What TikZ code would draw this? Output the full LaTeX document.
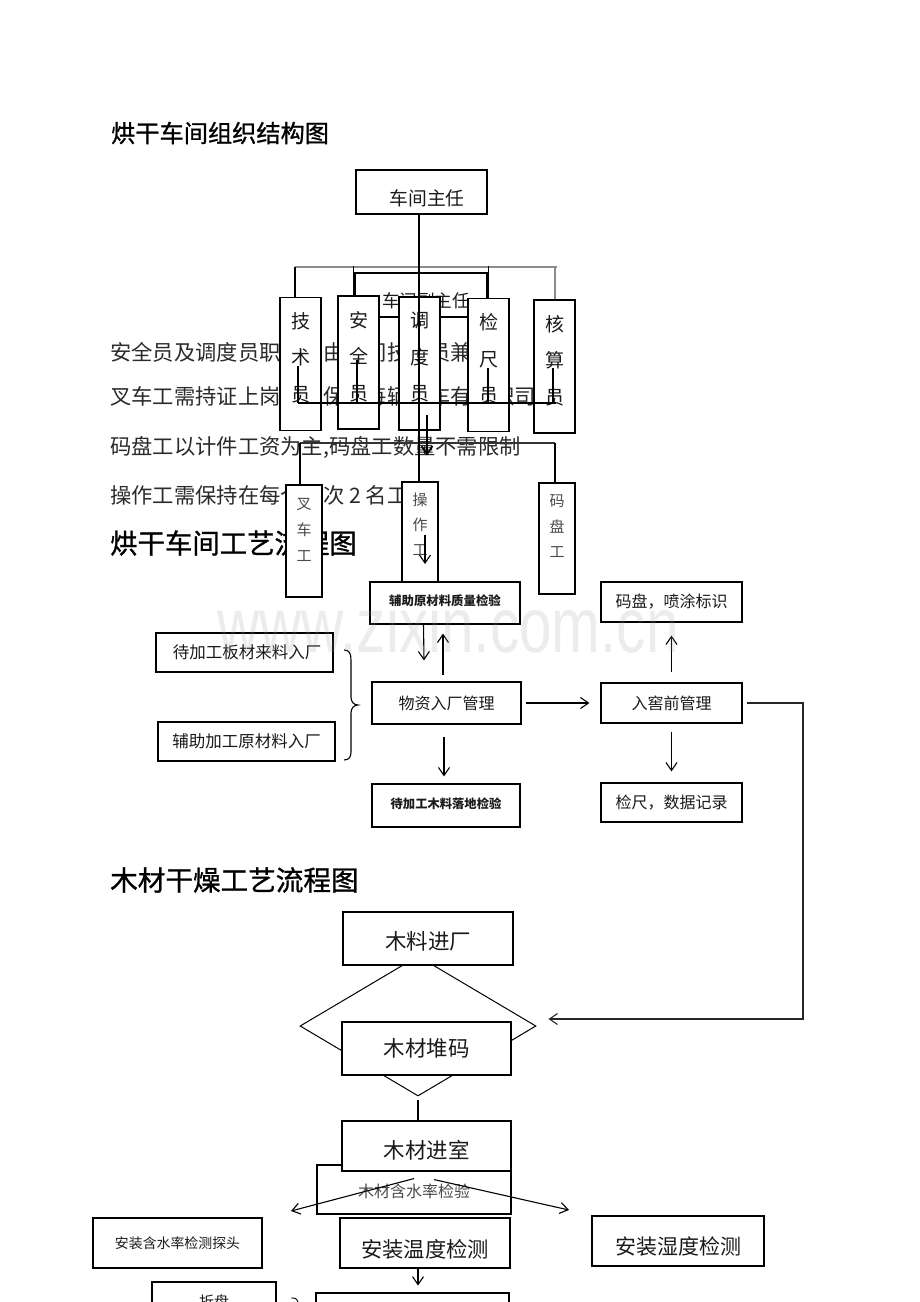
\documentclass[tikz,border=0pt]{standalone}
\usepackage{fontspec}
\setmainfont{Noto Sans CJK SC}
\newfontfamily\ttlfont[FakeBold=1]{Noto Sans CJK SC}
\newfontfamily\wmfont{Liberation Sans}
\usetikzlibrary{arrows.meta,shapes.geometric}
\newcommand\fsz[1]{\fontsize{#1}{#1}\selectfont}
\newcommand\shiftdn[2]{\raisebox{-#1}[\height][\depth]{#2}}
\definecolor{ink}{HTML}{1A1A1A}
\definecolor{bodyc}{HTML}{2A2A2A}
\definecolor{barc}{HTML}{8C8C8C}
\definecolor{softc}{HTML}{4A4A4A}
\begin{document}
\begin{tikzpicture}[x=1pt,y=-1pt,
  box/.style={draw=black, line width=1.1pt, fill=white, inner sep=0pt, text=ink},
  vbox/.style={box, align=center},
  ln/.style={line width=1.1pt, draw=black},
  bar/.style={line width=1.3pt, draw=barc},
  arr/.style={line width=1.1pt, draw=black, -{Straight Barb[length=8pt,width=11pt]}},
  body/.style={anchor=west, inner sep=0pt, text=bodyc, font=\fsz{21.3}},
  ttl/.style={anchor=west, inner sep=0pt, text=black}
]
\fill[white] (0,0) rectangle (920,1302);
\useasboundingbox (0,0) rectangle (920,1302);

% ---------- titles and body lines ----------
\node[ttl, font=\ttlfont\fsz{24.2}] (t1) at (111,133) {烘干车间组织结构图};
\node[body] (l1) at (110,352) {安全员及调度员职务可由车间技术员兼任};
\node[body] (l2) at (110,397) {叉车工需持证上岗，并保证每辆叉车有专职司机};
\node[body] (l3) at (110,447) {码盘工以计件工资为主,码盘工数量不需限制};
\node[body] (l4) at (110,495) {操作工需保持在每个班次 2 名工人};
\node[ttl, font=\ttlfont\fsz{27.4}] (t2) at (110,543) {烘干车间工艺流程图};
\node[ttl, font=\ttlfont\fsz{27.6}] (t3) at (110,880) {木材干燥工艺流程图};

% ---------- organisation chart ----------
\node[box, minimum width=131pt, minimum height=44pt, font=\fsz{18.8}] (zr) at (421.5,192) {\hspace*{11pt}\shiftdn{6pt}{车间主任}};
\coordinate (barL) at (295,267);
\coordinate (barR) at (557,267);
\node[box, minimum width=132pt, minimum height=44pt, font=\fsz{17.6}] (fzr) at (421,295) {\hspace*{10pt}\shiftdn{6pt}{车间副主任}};
\draw[bar] (barL) -- (barR);

\tikzset{orgv/.style={vbox, minimum width=41pt, minimum height=133pt, font=\fontsize{19}{36.5}\selectfont, text depth=14pt}}
\node[orgv] (js) at (300.5,364) {技\\术\\员};
\node[orgv] (aq) at (358.5,362.5) {安\\全\\员};
\node[orgv] (dd) at (419.5,363.5) {调\\度\\员};
\node[orgv] (jc) at (488.5,365) {检\\尺\\员};
\node[orgv] (hs) at (554.5,366.5) {核\\算\\员};

\draw[ln] (barL) -- (barL |- js.north);
\draw[ln] ([xshift=-5pt]aq.north) -- ++(0,-29);
\draw[ln] (jc.north) -- ++(0,-32);
\draw[bar] ([xshift=0.5pt]hs.north) -- ++(0,-33);

\coordinate (hL) at (298,403);
\coordinate (hR) at (556,403);
\draw[ln] (hL) -- (hR);
\draw[ln] ([xshift=-2.5pt,yshift=-2pt]js.center) -- (hL);
\draw[ln] ([xshift=-1.5pt,yshift=2.5pt]aq.center) -- ++(0,43);
\draw[ln] ([xshift=-0.5pt,yshift=-3pt]jc.center) -- ++(0,35);
\draw[ln] ([xshift=-1.5pt,yshift=-1.5pt]hs.center) -- ++(0,35);

\node[vbox, minimum width=36pt, minimum height=112pt, font=\fontsize{15}{26}\selectfont, text depth=22pt, text=softc] (cc) at (304,541) {叉\\车\\工};
\node[vbox, minimum width=36pt, minimum height=104pt, font=\fontsize{15}{25}\selectfont, text depth=20pt, text=softc] (cz) at (420,534) {操\\作\\工};
\node[vbox, minimum width=36pt, minimum height=111pt, font=\fontsize{15}{25.5}\selectfont, text depth=24pt, text=softc] (mp) at (557,538.5) {码\\盘\\工};

\coordinate (h2L) at (300,443);
\coordinate (h2R) at (555,443);
\draw[ln, draw=black!80] (h2L) -- (h2R);
\draw[ln] (h2L) -- (h2L |- cc.north);
\draw[ln] (h2R) -- (h2R |- mp.north);
\draw[ln] ([xshift=-2.5pt]zr.south) -- ([xshift=-2.5pt]zr.south |- cz.north);
\draw[arr, line width=1.6pt] ([xshift=7.5pt,yshift=16pt]dd.south) -- ++(0,41);
\draw[arr] ([xshift=5pt,yshift=-1pt]cz.center) -- ++(0,29);

% ---------- process of drying workshop ----------
\node[box, minimum width=150pt, minimum height=42pt, font=\fsz{12.4}\bfseries] (fz) at (445,603) {\shiftdn{-2pt}{辅助原材料质量检验}};
\node[box, minimum width=177pt, minimum height=39pt, font=\fsz{16.5}] (db) at (244.5,652.5) {\hspace*{5pt}待加工板材来料入厂};
\node[box, minimum width=177pt, minimum height=39pt, font=\fsz{16.5}] (fj) at (246.5,741.5) {辅助加工原材料入厂};
\node[box, minimum width=149pt, minimum height=42pt, font=\fsz{16}] (wz) at (446.5,703) {物资入厂管理};
\node[box, minimum width=148pt, minimum height=43pt, font=\fsz{12.3}\bfseries] (dj) at (446,805.5) {\shiftdn{-2pt}{待加工木料落地检验}};
\node[box, minimum width=141pt, minimum height=40pt, font=\fsz{16}] (mp2) at (671.5,602) {码盘，喷涂标识};
\node[box, minimum width=141pt, minimum height=40pt, font=\fsz{16}] (ry) at (671.5,703) {入窖前管理};
\node[box, minimum width=141pt, minimum height=39pt, font=\fsz{16}] (jc2) at (671.5,802.5) {检尺，数据记录};

\draw[ln] (344,650) .. controls (349,650) and (351,653) .. (351,660) -- (351,697)
  .. controls (351,702) and (354,705) .. (358,705)
  .. controls (354,705) and (351,708) .. (351,713) -- (351,752)
  .. controls (351,757) and (349,760) .. (344,760);

\draw[arr] ([xshift=-21.5pt]fz.south) -- ([xshift=-22.5pt,yshift=21pt]wz.north);
\draw[arr] ([xshift=-3.5pt,yshift=6pt]wz.north) -- ([xshift=-2pt,yshift=-9pt]fz.south);
\draw[arr] ([xshift=-2.5pt,yshift=-12pt]wz.south) -- ([xshift=-2pt,yshift=7pt]dj.north);
\draw[arr] ([xshift=4pt]wz.east) -- ([xshift=-11pt]ry.west);
\draw[arr] ([yshift=10pt]ry.north) -- ([yshift=-13pt]mp2.south);
\draw[arr] ([yshift=-8pt]ry.south) -- ([yshift=11pt]jc2.north);

% ---------- wood drying process ----------
\node[draw=black, line width=1pt, diamond, minimum width=236pt, minimum height=140pt, inner sep=0pt, aspect=1.686] (dia) at (418,1026) {};
\node[box, minimum width=170pt, minimum height=53pt, font=\fsz{21.5}] (ml) at (428,938.5) {\shiftdn{3pt}{木料进厂}};
\node[box, minimum width=169pt, minimum height=53pt, font=\fsz{21.5}] (dm) at (426.5,1048.5) {木材堆码};
\coordinate (c1) at (803,703);
\coordinate (c2) at (803,1019);
\draw[arr, draw=black!85] ([xshift=4pt]ry.east) -- (c1) -- (c2) -- ([xshift=12pt,yshift=7pt]dia.east);

\node[box, minimum width=194pt, minimum height=49pt, font=\fsz{16}, text=softc] (hs3) at (414,1189.5) {\shiftdn{2pt}{木材含水率检验}};
\node[box, minimum width=169pt, minimum height=50pt, font=\fsz{21.5}] (js3) at (426.5,1146) {\shiftdn{4pt}{木材进室}};
\draw[ln] ([yshift=-3pt]dia.south) -- (dia.south |- js3.north);

\coordinate (endL) at (291,1211);
\coordinate (endR) at (569,1210);
\draw[arr] ([xshift=-12.5pt,yshift=-7pt]js3.south) -- (endL);
\draw[arr] ([xshift=7.5pt,yshift=-8pt]js3.south) -- (endR);

\node[box, minimum width=169pt, minimum height=50pt, font=\fsz{13.9}] (az) at (177.5,1243) {安装含水率检测探头};
\node[box, minimum width=170pt, minimum height=50pt, font=\fsz{21.3}] (wd) at (425,1243) {\shiftdn{6pt}{安装温度检测}};
\node[box, minimum width=172pt, minimum height=50pt, font=\fsz{21}] (sd) at (678,1241) {\shiftdn{5pt}{安装湿度检测}};
\draw[arr] ([xshift=-7pt]wd.south) -- ++(0,17);

\node[box, minimum width=124pt, minimum height=40pt, font=\fsz{15}] (zp) at (214,1302) {折盘};
\node[box, minimum width=193pt, minimum height=50pt] (bb) at (412.5,1318) {};
\draw[ln, line width=0.9pt] (291,1298) .. controls (296,1298) .. (298,1302);

% ---------- watermark ----------
\node[anchor=base west, inner sep=0pt, text=black!40, opacity=0.18] (wm) at (217,652) {\wmfont\fontsize{78}{78}\selectfont\scalebox{0.75}[1]{www.zixin.com.cn}};
\end{tikzpicture}
\end{document}
